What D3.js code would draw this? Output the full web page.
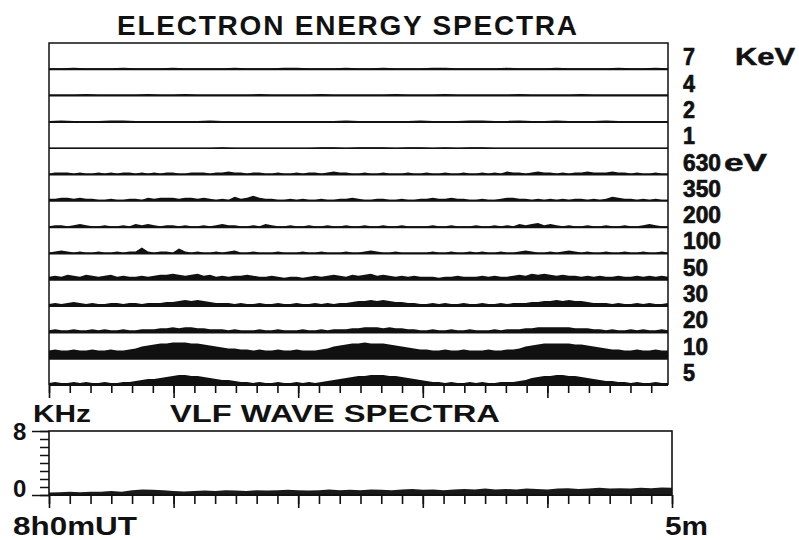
<!DOCTYPE html>
<html><head><meta charset="utf-8">
<script src="https://cdn.jsdelivr.net/npm/d3@7"></script>
<style>body{margin:0;background:#fff}svg text{font-family:"Liberation Sans",Arial,sans-serif;font-weight:bold;fill:#111}</style>
</head><body>
<svg id="c" width="799" height="540"></svg>
<script>
// ---------- DATA ----------
const channels = ["7","4","2","1","630","350","200","100","50","30","20","10","5"];
const unitLabels = {"7":"KeV","630":"eV"};
// relative flux (each channel sampled uniformly across 0..300 s)
const ch7   = [1,1,1.5,1,1,1,1.5,1,1,1,1.5,1,1,1,1,1.5,1,1,1,1.5,1.5,1,1,1,1.5,1,1,1.5,1,1,1,1.5,1.5,1,1,1,1,1.5,1,1,1,1.5,1,1,1,1,1.5,1,1,1.5,1];
const ch4   = [1,1,1,1.5,1,1,1,1,1.5,1,1,1.5,1,1,1,1,1,1.5,1,1,1,1,1.5,1,1,1,1,1,1.5,1,1,1,1.5,1,1,1,1,1,1.5,1,1,1,1,1.5,1,1,1,1,1,1,1];
const ch2   = [1,1.5,1,1,1,1.5,1.5,1,1,1,1,1,1,1.5,1,1,1,1,1,1,1,1,1,1,1.5,1,1,1,1,1,1.5,1,1,1,1.5,1.5,1,1,1.5,1,1,1.5,1,1,1,1.5,1,1,1,1,1];
const ch1   = [0.5,0.5,0.5,0.5,0.5,0.5,0.5,0.5,0.5,0.5,0.5,0.5,0.5,0.5,1,0.5,0.5,0.5,0.5,0.5,0.5,0.5,1,1,0.5,1,1,1,0.5,1,1,0.5,1,0.5,1,1,0.5,0.5,0.5,0.5,0.5,0.5,0.5,0.5,0.5,0.5,0.5,0.5,0.5,0.5,0.5];
const ch630 = [1,2,2,2,1,2,1,1,2,1, 2,1,2,2,1,2,1,2,1,2, 2,1,1,2,2,2,1,2,2,3, 2,2,1,2,2,1,1,2,1,1, 2,1,2,2,1,2,3,2,2,1, 1,2,1,1,2,1,1,1,2,1, 1,2,1,1,2,1,1,2,1,1, 2,1,2,1,3,2,2,1,2,3, 2,2,1,2,1,2,2,3,2,2, 2,3,2,2,1,2,1,1,2,1,1];
const ch350 = [2,2,3,3,2,3,2,2,1,1, 2,1,1,2,2,1,3,2,3,3, 3,2,3,3,2,3,2,1,2,1, 4,2,3,5,3,2,2,1,1,2, 1,2,1,1,2,1,1,2,2,3, 2,1,1,2,2,1,1,2,1,1, 2,2,3,2,2,3,2,2,1,1, 2,1,1,2,3,3,2,2,1,2, 1,2,1,2,1,2,2,1,2,1, 2,4,3,2,2,1,2,1,2,1,1];
const ch200 = [1,2,2,1,2,3,2,1,1,2, 1,1,2,1,3,2,3,2,1,2, 2,1,2,1,1,2,1,2,3,2, 2,1,1,2,1,3,2,1,1,2, 1,1,2,1,1,2,1,1,2,1, 1,2,1,1,2,1,1,2,1,1, 1,1,2,1,1,2,1,1,1,2, 1,1,2,1,2,1,3,2,3,4, 2,3,2,1,2,1,1,2,1,1, 2,1,1,2,1,1,2,3,2,1,1];
const ch100 = [1,2,3,2,1,2,1,1,2,1, 1,2,1,2,2,6,2,1,2,2, 1,5,2,1,2,1,1,2,1,2, 3,1,1,2,1,1,1,2,1,1, 1,2,1,1,2,1,1,1,2,1, 1,2,3,2,1,1,2,1,1,1, 1,1,2,1,1,2,1,1,2,1, 2,1,1,2,1,1,2,3,2,1, 1,2,1,2,3,2,1,2,1,1, 2,1,1,2,1,1,2,1,1,2,1];
const ch50  = [3,4,3,5,4,3,5,4,3,4, 5,3,4,3,3,4,3,4,5,5, 6,5,4,5,6,4,5,3,4,3, 4,4,5,4,3,3,4,3,2,3, 3,2,3,4,3,4,5,4,3,5, 4,5,6,4,5,4,3,4,3,4, 3,3,3,2,3,3,4,3,3,3, 4,3,4,3,3,4,5,4,6,5, 6,5,4,5,4,4,3,4,3,4, 3,3,4,3,3,4,3,4,3,4,3];
const ch30  = [2,3,2,3,4,3,2,3,2,2, 3,3,2,3,3,2,3,3,3,4, 4,5,6,5,6,5,4,3,3,3, 2,3,2,2,3,2,2,3,2,2, 3,2,2,3,2,3,2,3,3,4, 5,5,6,5,6,5,4,4,3,3, 2,2,3,2,3,2,2,3,2,2, 3,2,2,3,2,3,3,3,4,4, 5,5,6,5,6,5,5,4,3,3, 3,2,3,2,2,3,2,3,2,2,3];
const ch20  = [2,3,2,2,3,2,2,3,2,3, 2,2,3,2,2,3,3,3,4,4, 5,4,5,5,4,4,3,3,3,2, 3,2,2,2,3,2,2,3,2,2, 2,3,2,2,3,2,3,3,3,4, 4,5,5,5,4,5,4,4,3,3, 2,2,3,2,2,3,2,2,3,2, 2,2,3,2,3,3,3,4,4,5, 5,5,5,5,5,4,4,4,3,3, 2,3,2,2,3,2,3,2,2,3,2];
const ch10  = [8,9,8,8,9,8,8,9,8,8, 9,8,8,9,10,12,13,14,15,15, 16,16,16,15,15,14,13,12,11,10, 10,9,9,8,9,8,8,9,8,8, 9,8,8,8,9,10,12,13,14,15, 15,16,15,15,15,14,13,12,11,10, 9,9,8,8,9,8,8,9,8,8, 8,9,8,8,9,9,10,12,13,14, 15,15,15,15,15,14,14,13,12,11, 10,9,9,8,8,9,8,8,9,8,8];
const ch5   = [2,3,2,2,3,2,3,2,2,3, 2,2,3,3,4,5,6,6,7,8, 9,10,10,9,9,8,7,6,5,5, 4,3,3,2,3,2,2,3,2,2, 3,2,3,2,3,4,5,6,7,8, 9,9,10,10,10,9,9,8,7,6, 5,4,3,3,2,3,2,2,3,2, 3,2,2,3,3,3,4,5,7,8, 9,9,10,10,9,9,8,7,6,5, 4,4,3,3,2,3,2,2,3,2,2];
const spectra = [ch7,ch4,ch2,ch1,ch630,ch350,ch200,ch100,ch50,ch30,ch20,ch10,ch5];
// VLF wave intensity band (kHz extent), 0..300 s every 5 s
const vlf = [0.3,0.35,0.4,0.35,0.4,0.4,0.5,0.4,0.6,0.7,0.65,0.6,0.5,0.45,0.5,0.55,0.5,0.6,0.55,0.5,0.6,0.55,0.6,0.65,0.6,0.55,0.6,0.7,0.6,0.65,0.6,0.7,0.65,0.6,0.7,0.75,0.65,0.7,0.6,0.7,0.75,0.7,0.8,0.7,0.75,0.7,0.8,0.75,0.7,0.8,0.85,0.75,0.8,0.9,0.8,0.85,0.8,0.9,0.85,0.95,0.9];
const timeTicks = d3.range(0, 300, 10);
const minuteTicks = [0, 60, 120, 180, 240];
const vlfTicks = d3.range(0, 9, 1);
const vlfMajor = [0, 8];

// ---------- CHART ----------
const svg = d3.select("#c");
const xUp = d3.scaleLinear().domain([0, 300]).range([49, 668]);
const xLow = d3.scaleLinear().domain([0, 300]).range([49, 672]);
const yBand = d3.scaleBand().domain(channels).range([43, 385]);
const bw = yBand.bandwidth();
const hVal = d3.scaleLinear().domain([0, 26]).range([0, bw]);
const yV = d3.scaleLinear().domain([0, 8]).range([495, 431]);

// title
svg.append("text").attr("x", 117).attr("y", 35).attr("font-size", 28)
  .attr("textLength", 460).attr("lengthAdjust", "spacing").text("ELECTRON  ENERGY SPECTRA");

// channel traces
channels.forEach((c, k) => {
  const data = spectra[k];
  const n = data.length;
  const base = yBand(c) + bw;
  const t = i => i * 300 / (n - 1);
  const area = d3.area().x((d, i) => xUp(t(i))).y0(base).y1(d => base - hVal(d));
  svg.append("path").attr("d", area(data)).attr("fill", "#111");
  svg.append("line").attr("x1", xUp(0)).attr("x2", xUp(300)).attr("y1", base).attr("y2", base)
    .attr("stroke", "#111").attr("stroke-width", c === "1" ? 1.5 : 2);
  // channel labels
  svg.append("text").attr("x", 683).attr("y", base - 4).attr("font-size", 23.5)
    .style("font-family", "'Liberation Sans Narrow','Arial Narrow','Liberation Sans',sans-serif")
    .attr("stroke", "#111").attr("stroke-width", 0.7)
    .attr("textLength", 13 * c.length - 1).attr("lengthAdjust", "spacingAndGlyphs").text(c);
});
// unit labels
svg.append("text").attr("x", 735).attr("y", yBand("7") + bw - 4).attr("font-size", 24)
  .attr("stroke", "#111").attr("stroke-width", 0.5)
  .attr("textLength", 60).attr("lengthAdjust", "spacingAndGlyphs").text(unitLabels["7"]);
svg.append("text").attr("x", 724).attr("y", yBand("630") + bw - 4).attr("font-size", 24)
  .attr("stroke", "#111").attr("stroke-width", 0.5)
  .attr("textLength", 43).attr("lengthAdjust", "spacingAndGlyphs").text(unitLabels["630"]);

// upper frame
svg.append("path").attr("d", `M${xUp(0)},${yBand.range()[1]}V${yBand.range()[0]}H${xUp(300)}V${yBand.range()[1]}`)
  .attr("fill", "none").attr("stroke", "#111").attr("stroke-width", 1.5);

// time ticks helper
function ticks(g, scale, vals, size) {
  g.call(d3.axisBottom(scale).tickValues(vals).tickSize(size).tickFormat(""));
  g.select(".domain").remove();
  g.selectAll(".tick line").attr("stroke", "#111").attr("stroke-width", 1.6);
}
svg.append("g").attr("transform", "translate(0,385)").call(g => ticks(g, xLow, timeTicks, 8));
svg.append("g").attr("transform", "translate(0,385)").call(g => ticks(g, xLow, minuteTicks, 13));

// VLF panel
svg.append("text").attr("x", 33).attr("y", 422).attr("font-size", 24)
  .attr("textLength", 58).attr("lengthAdjust", "spacingAndGlyphs").text("KHz");
svg.append("text").attr("x", 170).attr("y", 422).attr("font-size", 24)
  .attr("textLength", 330).attr("lengthAdjust", "spacingAndGlyphs").text("VLF  WAVE  SPECTRA");

const vArea = d3.area().x((d, i) => xLow(i * 300 / (vlf.length - 1))).y0(yV(0)).y1(d => yV(d));
svg.append("path").attr("d", vArea(vlf)).attr("fill", "#1a1a1a");
svg.append("rect").attr("x", xLow(0)).attr("y", yV(8)).attr("width", xLow(300) - xLow(0))
  .attr("height", yV(0) - yV(8)).attr("fill", "none").attr("stroke", "#111").attr("stroke-width", 1.6);
svg.append("line").attr("x1", xLow(0)).attr("x2", xLow(300)).attr("y1", yV(0)).attr("y2", yV(0))
  .attr("stroke", "#111").attr("stroke-width", 2);

const ly = svg.append("g").attr("transform", `translate(${xLow(0)},0)`);
ly.call(d3.axisLeft(yV).tickValues(vlfTicks).tickSize(9).tickFormat(""));
const ly2 = svg.append("g").attr("transform", `translate(${xLow(0)},0)`);
ly2.call(d3.axisLeft(yV).tickValues(vlfMajor).tickSize(17).tickFormat(""));
[ly, ly2].forEach(g => { g.select(".domain").remove(); g.selectAll(".tick line").attr("stroke", "#111").attr("stroke-width", 1.5); });
svg.append("text").attr("x", 13).attr("y", yV(8) + 9).attr("font-size", 24).text("8");
svg.append("text").attr("x", 13).attr("y", yV(0) + 2).attr("font-size", 24).text("0");

svg.append("g").attr("transform", `translate(0,${yV(0)})`).call(g => ticks(g, xLow, d3.range(0, 301, 10), 9));
svg.append("g").attr("transform", `translate(0,${yV(0)})`).call(g => ticks(g, xLow, [0, 60, 120, 180, 240, 300], 13));

svg.append("text").attr("x", 13).attr("y", 535).attr("font-size", 25)
  .attr("textLength", 124).attr("lengthAdjust", "spacingAndGlyphs").text("8h0mUT");
svg.append("text").attr("x", 665).attr("y", 535).attr("font-size", 25)
  .attr("textLength", 43).attr("lengthAdjust", "spacingAndGlyphs").text("5m");
</script>
</body></html>
